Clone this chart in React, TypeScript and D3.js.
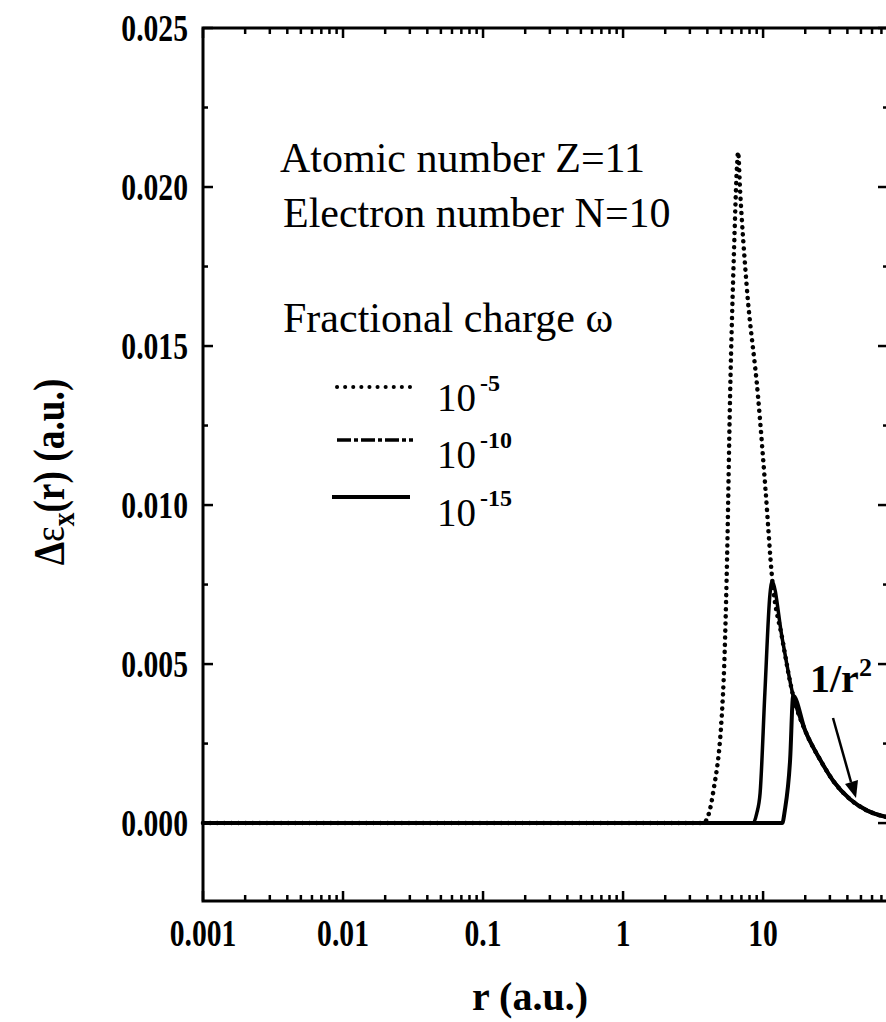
import React from 'react';
import * as d3 from 'd3';

const W = 886;
const H = 1022;

// Axis ticks
const xTickValues = [0.001, 0.01, 0.1, 1, 10];
const xTickLabels = ['0.001', '0.01', '0.1', '1', '10'];
const yTickValues = [0, 0.005, 0.01, 0.015, 0.02, 0.025];
const yTickLabels = ['0.000', '0.005', '0.010', '0.015', '0.020', '0.025'];

// Series: fractional charge 1e-5 (dotted)
const rW5 = [0.001, 3.73, 4.1, 4.39, 5.18, 5.53, 5.81, 6.2, 6.52, 6.63, 6.85, 7.6, 9.21, 10.4, 11.6, 13.7, 16.4, 20, 25.5, 32, 41.8, 55, 78];
const dW5 = [0, 0, 0.0003, 0.00094, 0.0041, 0.0083, 0.0134, 0.018, 0.0207, 0.0211, 0.0199, 0.017, 0.0134, 0.0105, 0.0077, 0.0058, 0.004, 0.0029, 0.002, 0.0013, 0.00075, 0.0004, 0.00018];
// Series: fractional charge 1e-10
const rW10 = [0.001, 8.49, 9.0, 9.52, 10.3, 11.2, 11.6, 13.7, 16.4, 20, 25.5, 32, 41.8, 55, 78];
const dW10 = [0, 0, 0.0003, 0.00094, 0.0041, 0.0072, 0.0076, 0.0058, 0.004, 0.0029, 0.002, 0.0013, 0.00075, 0.0004, 0.00018];
// Series: fractional charge 1e-15
const rW15 = [0.001, 13.7, 14.3, 15.6, 16.4, 20, 25.5, 32, 41.8, 55, 78];
const dW15 = [0, 0, 0.0004, 0.002, 0.004, 0.0029, 0.002, 0.0013, 0.00075, 0.0004, 0.00018];

const legendExponents = ['-5', '-10', '-15'];

const FONT = '"Liberation Serif", "Times New Roman", Times, serif';

export default function App() {
  const L = 203, R = 888, T = 28, B = 901;
  const x = d3.scaleLog().domain([0.001, 78]).range([L, R]);
  const y = d3.scaleLinear().domain([-0.00245, 0.025]).range([B, T]);
  const line = d3
    .line<[number, number]>()
    .x((d) => x(d[0]))
    .y((d) => y(d[1]))
    .curve(d3.curveMonotoneX);

  const zip = (a: number[], b: number[]) => a.map((v, i) => [v, b[i]] as [number, number]);

  const minorX: number[] = [];
  for (let e = -3; e <= 1; e++) {
    for (let k = 2; k <= 9; k++) {
      const v = k * Math.pow(10, e);
      if (v < 78) minorX.push(v);
    }
  }
  const minorY = [0.0025, 0.0075, 0.0125, 0.0175, 0.0225];

  const sw = 3;
  return (
    <svg width={W} height={H} style={{ position: 'absolute', left: 0, top: 0, background: '#fff' }} fontFamily={FONT}>
      <rect x={0} y={0} width={W} height={H} fill="#fff" />
      {/* frame */}
      <rect x={L} y={T} width={R - L} height={B - T} fill="none" stroke="#000" strokeWidth={sw} />
      {/* x ticks */}
      {xTickValues.map((v) => (
        <g key={'xm' + v}>
          <line x1={x(v)} x2={x(v)} y1={B} y2={B - 10} stroke="#000" strokeWidth={2.5} />
          <line x1={x(v)} x2={x(v)} y1={T} y2={T + 10} stroke="#000" strokeWidth={2.5} />
        </g>
      ))}
      {minorX.map((v) => (
        <g key={'xn' + v}>
          <line x1={x(v)} x2={x(v)} y1={B} y2={B - 6} stroke="#000" strokeWidth={2.5} />
          <line x1={x(v)} x2={x(v)} y1={T} y2={T + 6} stroke="#000" strokeWidth={2.5} />
        </g>
      ))}
      {/* y ticks */}
      {yTickValues.map((v) => (
        <g key={'ym' + v}>
          <line x1={L} x2={L + 10} y1={y(v)} y2={y(v)} stroke="#000" strokeWidth={2.5} />
          <line x1={R} x2={R - 10} y1={y(v)} y2={y(v)} stroke="#000" strokeWidth={2.5} />
        </g>
      ))}
      {minorY.map((v) => (
        <g key={'yn' + v}>
          <line x1={L} x2={L + 5} y1={y(v)} y2={y(v)} stroke="#000" strokeWidth={2.5} />
          <line x1={R} x2={R - 5} y1={y(v)} y2={y(v)} stroke="#000" strokeWidth={2.5} />
        </g>
      ))}
      {/* tick labels (condensed bold serif) */}
      {yTickValues.map((v, i) => (
        <text key={'yl' + v} transform={`translate(188,${y(v)}) scale(0.78,1)`} dy="0.35em" textAnchor="end" fontSize={38} fontWeight="bold">
          {yTickLabels[i]}
        </text>
      ))}
      {xTickValues.map((v, i) => (
        <text key={'xl' + v} transform={`translate(${x(v)},946) scale(0.78,1)`} textAnchor="middle" fontSize={38} fontWeight="bold">
          {xTickLabels[i]}
        </text>
      ))}
      {/* axis titles */}
      <text x={530} y={1010} textAnchor="middle" fontSize={40} fontWeight="bold">r (a.u.)</text>
      <text transform="translate(64,472) rotate(-90) scale(0.85,1)" textAnchor="middle" fontSize={44} fontWeight="bold">
        <tspan>Δ</tspan>
        <tspan fontWeight="normal">ε</tspan>
        <tspan dy={10} fontSize={32}>x</tspan>
        <tspan dy={-10}>(r) (a.u.)</tspan>
      </text>

      {/* curves */}
      <path d={line(zip(rW15, dW15)) || ''} fill="none" stroke="#000" strokeWidth={4} strokeLinejoin="round" />
      <path d={line(zip(rW10, dW10)) || ''} fill="none" stroke="#000" strokeWidth={3.5} strokeLinejoin="round" />
      <path d={line(zip(rW5, dW5)) || ''} fill="none" stroke="#000" strokeWidth={4.5} strokeDasharray="0.1 7" strokeLinecap="round" />

      {/* annotation text */}
      <text x={280} y={172} fontSize={42}>Atomic number Z=11</text>
      <text x={283} y={227} fontSize={42}>Electron number N=10</text>
      <text x={283} y={332} fontSize={42}>Fractional charge ω</text>

      {/* legend */}
      {legendExponents.map((ex, i) => {
        const ly = [387, 440, 497][i];
        const ty = [411, 468, 526][i];
        return (
          <g key={'lg' + ex}>
            {i === 0 && <line x1={337} x2={410} y1={ly} y2={ly} stroke="#000" strokeWidth={4} strokeDasharray="0.1 8" strokeLinecap="round" />}
            {i === 1 && <line x1={337} x2={413} y1={ly} y2={ly} stroke="#000" strokeWidth={3.5} strokeDasharray="14 3 4 3" />}
            {i === 2 && <line x1={332} x2={410} y1={ly} y2={ly} stroke="#000" strokeWidth={4} />}
            <text x={437} y={ty} fontSize={39}>
              10
              <tspan dx={4} dy={-20} fontSize={24} fontWeight="bold">{ex}</tspan>
            </text>
          </g>
        );
      })}

      {/* 1/r^2 annotation */}
      <text x={810} y={692} fontSize={40} fontWeight="bold">
        1/r<tspan dy={-16} fontSize={26}>2</tspan>
      </text>
      <line x1={833} y1={718} x2={851} y2={782} stroke="#000" strokeWidth={2.5} />
      <path d="M 845 784 L 856 798 L 858 780 Z" fill="#000" />
    </svg>
  );
}
